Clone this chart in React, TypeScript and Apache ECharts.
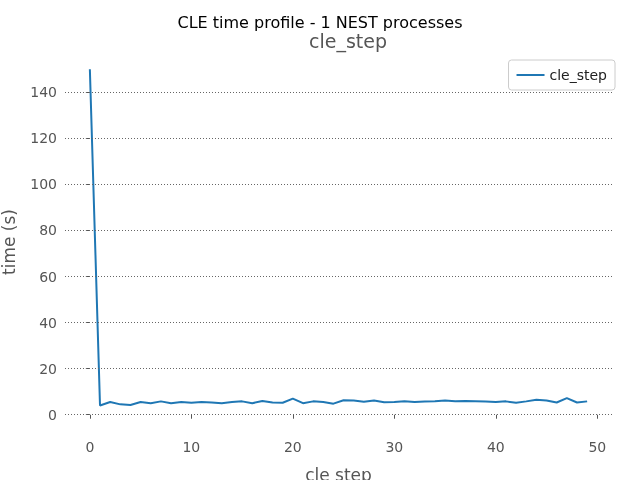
import React, { useEffect, useRef } from "react";
import * as echarts from "echarts";

const steps = Array.from({ length: 50 }, (_, i) => i);
const times = [150, 4, 5.5, 4.5, 4.2, 5.5, 5, 5.8, 5, 5.5, 5.2, 5.5, 5.3, 5, 5.5, 5.8, 5, 6, 5.3, 5.2, 7, 5, 5.8, 5.5, 4.8, 6.3, 6.2, 5.6, 6.2, 5.4, 5.5, 5.8, 5.5, 5.7, 5.8, 6.2, 5.8, 6, 5.9, 5.7, 5.5, 5.8, 5.2, 5.8, 6.5, 6.2, 5.3, 7.2, 5.3, 5.8];
const yTicks = [0, 20, 40, 60, 80, 100, 120, 140];
const xTicks = [0, 10, 20, 30, 40, 50];

const font = "DejaVu Sans";
const gray = "#555";

export default function App() {
  const ref = useRef<HTMLDivElement>(null);
  useEffect(() => {
    const chart = echarts.init(ref.current as HTMLDivElement, null, { renderer: "svg" });
    chart.setOption({
      animation: false,
      textStyle: { fontFamily: font },
      title: [
        { text: "CLE time profile - 1 NEST processes", left: "center", top: 9, textStyle: { fontSize: 16, fontWeight: "normal", color: "#000", fontFamily: font } },
        { text: "cle_step", left: 343, textAlign: "center", top: 26, textStyle: { fontSize: 19, fontWeight: "normal", color: gray, fontFamily: font } },
      ],
      legend: {
        right: 25, top: 60, orient: "vertical",
        itemWidth: 28, itemHeight: 2, padding: [8, 8],
        borderColor: "#ccc", borderWidth: 1, borderRadius: 3,
        icon: "rect",
        textStyle: { fontSize: 14, color: "#222", fontFamily: font },
        data: ["cle_step"],
      },
      grid: { left: 65, right: 28, top: 52, bottom: 48, outerBoundsMode: "none" },
      xAxis: {
        type: "value", min: -2.45, max: 51.45,
        name: "cle step", nameLocation: "middle", nameGap: 34,
        nameTextStyle: { fontSize: 17, color: gray, fontFamily: font },
        axisLine: { show: false },
        axisTick: { show: true, customValues: xTicks, lineStyle: { color: gray }, length: 4 },
        axisLabel: { customValues: xTicks, fontSize: 14, color: gray, fontFamily: font, margin: 8 },
        splitLine: { show: false },
      },
      yAxis: {
        type: "value", min: -7.5, max: 157.5,
        name: "time (s)", nameLocation: "middle", nameGap: 48,
        nameTextStyle: { fontSize: 17, color: gray, fontFamily: font },
        axisLine: { show: false },
        axisTick: { show: true, customValues: yTicks, lineStyle: { color: gray }, length: 4 },
        axisLabel: { customValues: yTicks, fontSize: 14, color: gray, fontFamily: font, margin: 8 },
        splitLine: { show: false },
      },
      series: [
        {
          name: "cle_step", type: "line", showSymbol: false,
          data: steps.map((s, i) => [s, times[i]]),
          lineStyle: { color: "#1f77b4", width: 2 },
          itemStyle: { color: "#1f77b4" },
          markLine: {
            silent: true, symbol: "none", label: { show: false },
            lineStyle: { color: "#666", type: [1, 2], width: 1 },
            data: yTicks.map((v) => [{ coord: [-2.45, v] }, { coord: [51.45, v] }]),
          },
          z: 3,
        },
      ],
    });
    return () => chart.dispose();
  }, []);
  return <div ref={ref} style={{ position: "fixed", left: 0, top: 0, width: 640, height: 480 }} />;
}
